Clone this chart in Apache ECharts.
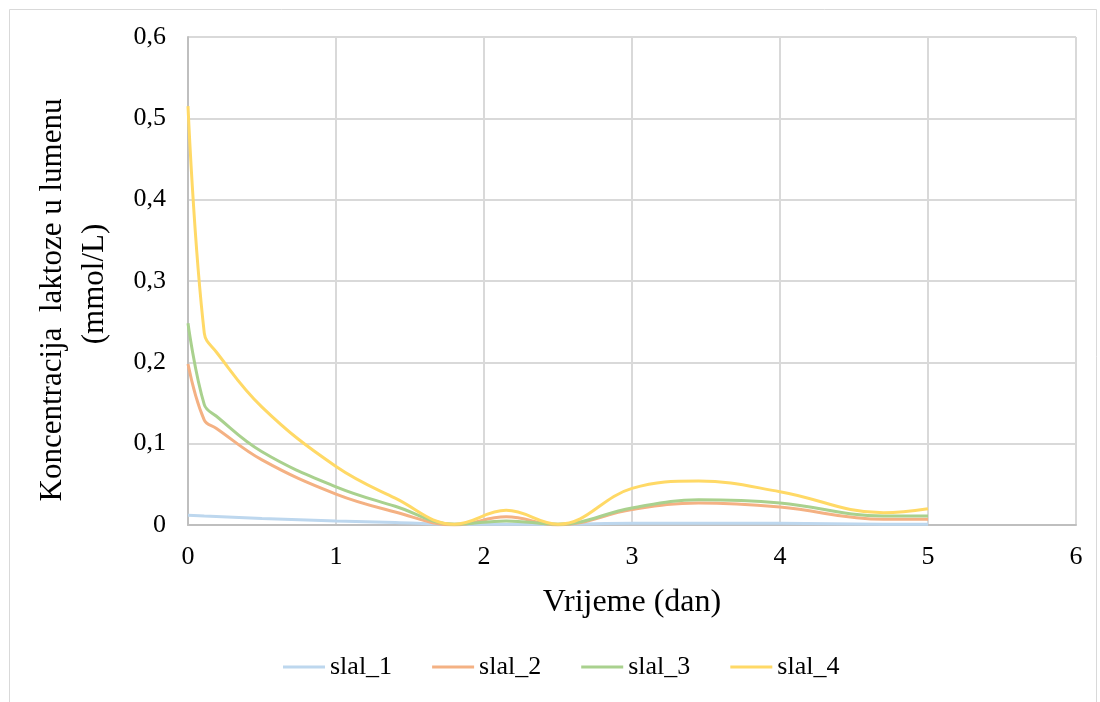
<!DOCTYPE html>
<html>
<head>
<meta charset="utf-8">
<script src="https://cdn.jsdelivr.net/npm/echarts@6/dist/echarts.min.js"></script>
<style>
html,body{margin:0;padding:0;background:#fff;}
#chart{width:1100px;height:702px;}
</style>
</head>
<body>
<div id="chart"></div>
<script>
// Time (days)
const days = [0, 0.11, 0.19, 0.5, 1, 1.4, 1.8, 2.15, 2.5, 3, 3.45, 4, 4.7, 5];
const seriesNames = ['slal_1', 'slal_2', 'slal_3', 'slal_4'];
const slal_1 = [0.012, 0.011, 0.0105, 0.008, 0.005, 0.003, 0.001, 0.001, 0.001, 0.002, 0.002, 0.002, 0.001, 0.001];
const slal_2 = [0.198, 0.129, 0.119, 0.080, 0.038, 0.016, 0.000, 0.010, 0.000, 0.019, 0.027, 0.022, 0.007, 0.007];
const slal_3 = [0.248, 0.148, 0.134, 0.090, 0.047, 0.023, 0.001, 0.005, 0.001, 0.021, 0.031, 0.027, 0.011, 0.011];
const slal_4 = [0.515, 0.236, 0.213, 0.145, 0.072, 0.033, 0.001, 0.018, 0.001, 0.045, 0.054, 0.041, 0.015, 0.020];
const yTicks = ['0', '0,1', '0,2', '0,3', '0,4', '0,5', '0,6'];
const xTitle = 'Vrijeme (dan)';
const yTitle1 = 'Koncentracija  laktoze u lumenu';
const yTitle2 = '(mmol/L)';

const colors = ['#bdd7ee', '#f4b183', '#a9d18e', '#ffd966'];
const allData = [slal_1, slal_2, slal_3, slal_4];
const font = '"Liberation Serif", "Times New Roman", serif';

const chart = echarts.init(document.getElementById('chart'), null, {renderer: 'canvas'});
chart.setOption({
  animation: false,
  backgroundColor: '#fff',
  grid: {left: 188, right: 24, top: 37, bottom: 177, containLabel: false},
  xAxis: {
    type: 'value', min: 0, max: 6, interval: 1,
    axisLine: {show: true, lineStyle: {color: '#bfbfbf', width: 2}},
    axisTick: {show: false},
    splitLine: {show: true, lineStyle: {color: '#d9d9d9', width: 2}},
    axisLabel: {color: '#000', fontFamily: font, fontSize: 26, margin: 19},
    name: xTitle, nameLocation: 'middle', nameGap: 62,
    nameTextStyle: {color: '#000', fontFamily: font, fontSize: 32}
  },
  yAxis: {
    type: 'value', min: 0, max: 0.6, interval: 0.1,
    axisLine: {show: true, lineStyle: {color: '#bfbfbf', width: 2}},
    axisTick: {show: false},
    splitLine: {show: true, lineStyle: {color: '#d9d9d9', width: 2}},
    axisLabel: {color: '#000', fontFamily: font, fontSize: 26, margin: 22,
      formatter: function (v) { return yTicks[Math.round(v * 10)]; }}
  },
  legend: {
    bottom: 17, left: 278,
    itemWidth: 42, itemHeight: 3, itemGap: 40,
    icon: 'rect',
    textStyle: {color: '#000', fontFamily: font, fontSize: 26},
    data: seriesNames
  },
  graphic: [
    {type: 'rect', shape: {x: 9.5, y: 9.5, width: 1087, height: 700}, style: {fill: 'none', stroke: '#d9d9d9', lineWidth: 1}, silent: true},
    {type: 'text', x: 53, y: 300, rotation: Math.PI / 2, style: {text: yTitle1, font: '31px ' + font, fill: '#000', textAlign: 'center', textVerticalAlign: 'middle'}},
    {type: 'text', x: 95, y: 284, rotation: Math.PI / 2, style: {text: yTitle2, font: '31px ' + font, fill: '#000', textAlign: 'center', textVerticalAlign: 'middle'}}
  ],
  series: seriesNames.map(function (n, i) {
    return {
      name: n, type: 'line', smooth: 0.4, showSymbol: false, symbol: 'none',
      color: colors[i],
      lineStyle: {color: colors[i], width: 3},
      data: days.map(function (d, j) { return [d, allData[i][j]]; })
    };
  })
});
</script>
</body>
</html>
